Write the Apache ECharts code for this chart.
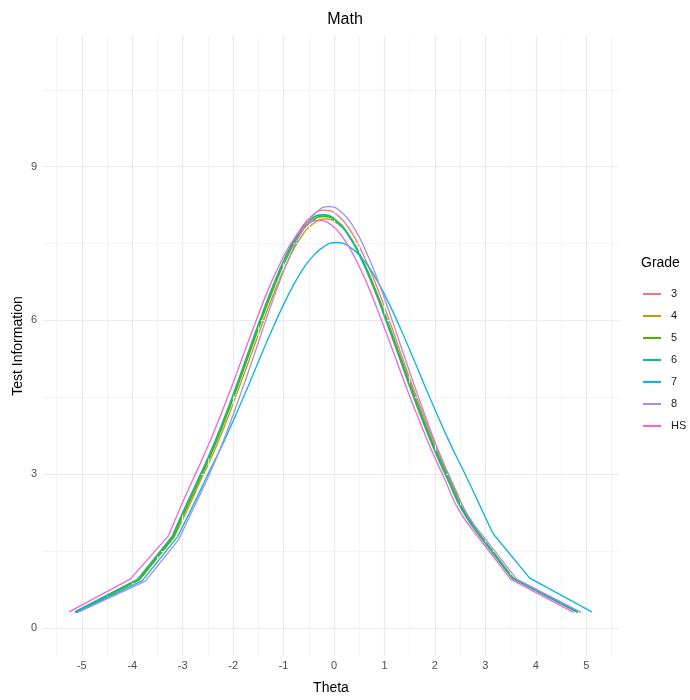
<!DOCTYPE html>
<html>
<head>
<meta charset="utf-8">
<script src="https://cdn.jsdelivr.net/npm/echarts@6/dist/echarts.min.js"></script>
<style>
  html, body { margin: 0; padding: 0; background: #fff; }
  #chart { width: 690px; height: 700px; }
</style>
</head>
<body>
<div id="chart"></div>
<script>
// ---- data ----
const grades = ['3', '4', '5', '6', '7', '8', 'HS'];
const colors = ['#F8766D', '#C49A00', '#53B400', '#00C094', '#00B6EB', '#A58AFF', '#FB61D7'];

const theta3 = [-5.12,-3.86,-3.18,-2.93,-2.68,-2.43,-2.18,-1.93,-1.68,-1.43,-1.18,-0.93,-0.68,-0.43,-0.18,0.07,0.32,0.57,0.82,1.07,1.32,1.57,1.82,2.07,2.32,2.57,2.87,3.55,4.82];
const info3  = [0.30,0.95,1.80,2.33,2.87,3.42,4.03,4.68,5.37,6.07,6.73,7.30,7.76,8.05,8.15,8.05,7.76,7.30,6.73,6.07,5.37,4.68,4.03,3.42,2.87,2.33,1.85,0.97,0.31];

const theta4 = [-5.10,-3.85,-3.17,-2.92,-2.67,-2.42,-2.17,-1.92,-1.67,-1.42,-1.17,-0.92,-0.67,-0.42,-0.17,0.08,0.33,0.58,0.83,1.08,1.33,1.58,1.83,2.08,2.33,2.58,2.88,3.56,4.84];
const info4  = [0.30,0.94,1.77,2.28,2.82,3.35,3.94,4.59,5.26,5.94,6.59,7.15,7.60,7.88,7.98,7.88,7.60,7.15,6.59,5.94,5.26,4.59,3.94,3.35,2.82,2.28,1.83,0.96,0.30];

const theta5 = [-5.13,-3.87,-3.19,-2.95,-2.70,-2.45,-2.20,-1.95,-1.70,-1.45,-1.20,-0.95,-0.70,-0.45,-0.20,0.05,0.30,0.55,0.80,1.05,1.30,1.55,1.80,2.05,2.30,2.55,2.87,3.54,4.84];
const info5  = [0.31,0.94,1.76,2.30,2.83,3.37,3.97,4.62,5.30,5.98,6.63,7.20,7.65,7.93,8.03,7.93,7.65,7.20,6.63,5.98,5.30,4.62,3.97,3.37,2.83,2.30,1.84,0.97,0.31];

const theta6 = [-5.14,-3.89,-3.21,-2.97,-2.72,-2.47,-2.22,-1.97,-1.72,-1.47,-1.22,-0.97,-0.72,-0.47,-0.22,0.03,0.28,0.53,0.78,1.03,1.28,1.53,1.78,2.03,2.28,2.53,2.85,3.53,4.82];
const info6  = [0.31,0.95,1.78,2.31,2.84,3.38,3.98,4.63,5.32,6.00,6.65,7.22,7.67,7.96,8.06,7.96,7.67,7.22,6.65,6.00,5.32,4.63,3.98,3.38,2.84,2.31,1.84,0.97,0.31];

const theta7 = [-5.10,-3.80,-3.10,-2.70,-2.45,-2.20,-1.95,-1.70,-1.45,-1.20,-0.95,-0.70,-0.45,-0.20,0.05,0.30,0.55,0.80,1.05,1.30,1.55,1.80,2.05,2.30,2.55,2.80,3.15,3.88,5.11];
const info7  = [0.30,0.92,1.78,2.58,3.10,3.60,4.15,4.72,5.31,5.88,6.41,6.87,7.22,7.44,7.52,7.44,7.22,6.87,6.41,5.88,5.31,4.72,4.15,3.60,3.10,2.58,1.84,0.97,0.31];

const theta8 = [-5.08,-3.74,-3.08,-2.85,-2.60,-2.35,-2.10,-1.85,-1.60,-1.35,-1.10,-0.85,-0.60,-0.35,-0.10,0.15,0.40,0.65,0.90,1.15,1.40,1.65,1.90,2.15,2.40,2.65,2.95,3.62,4.90];
const info8  = [0.30,0.91,1.72,2.20,2.72,3.27,3.89,4.57,5.28,6.01,6.70,7.31,7.80,8.11,8.22,8.11,7.80,7.31,6.70,6.01,5.28,4.57,3.89,3.27,2.72,2.20,1.80,0.95,0.30];

const thetaHS = [-5.25,-4.04,-3.28,-3.05,-2.80,-2.55,-2.30,-2.05,-1.80,-1.55,-1.30,-1.05,-0.80,-0.55,-0.30,-0.05,0.20,0.45,0.70,0.95,1.20,1.45,1.70,1.95,2.20,2.45,2.79,3.50,4.75];
const infoHS  = [0.31,0.95,1.80,2.34,2.89,3.43,4.02,4.65,5.32,5.98,6.61,7.15,7.58,7.86,7.95,7.86,7.58,7.15,6.61,5.98,5.32,4.65,4.02,3.43,2.89,2.34,1.86,0.95,0.30];

const xTicks = [-5,-4,-3,-2,-1,0,1,2,3,4,5];
const xMinor = [-5.5,-4.5,-3.5,-2.5,-1.5,-0.5,0.5,1.5,2.5,3.5,4.5,5.5];
const yTicks = [0,3,6,9];
const yMinor = [1.5,4.5,7.5,10.5];

// ---- build chart ----
const thetas = [theta3, theta4, theta5, theta6, theta7, theta8, thetaHS];
const infos  = [info3, info4, info5, info6, info7, info8, infoHS];
const widths = [1.3, 1.3, 1.7, 1.6, 1.3, 1.3, 1.3];

const FONT = '"Liberation Sans", Arial, sans-serif';
const GRID = '#EBEBEB';

const gridLines = {
  type: 'line', data: [], silent: true, z: 0,
  markLine: {
    silent: true, symbol: ['none', 'none'], animation: false,
    label: { show: false },
    emphasis: { disabled: true },
    data: [
      ...xMinor.map(v => ({ xAxis: v, lineStyle: { color: '#F1F1F1', width: 0.8, type: 'solid' } })),
      ...yMinor.map(v => ({ yAxis: v, lineStyle: { color: '#F1F1F1', width: 0.8, type: 'solid' } })),
      ...xTicks.map(v => ({ xAxis: v, lineStyle: { color: GRID, width: 1.2, type: 'solid' } })),
      ...yTicks.map(v => ({ yAxis: v, lineStyle: { color: GRID, width: 1.2, type: 'solid' } }))
    ]
  }
};

const series = [gridLines];
grades.forEach((g, i) => {
  const pts = thetas[i].map((t, k) => [t, infos[i][k]]);
  const n = pts.length;
  // tails: straight segments between the sparse outer points
  series.push({
    name: g, type: 'line',
    data: [pts[0], pts[1], pts[2], '-', pts[n - 3], pts[n - 2], pts[n - 1]],
    symbol: 'none', smooth: false, connectNulls: false,
    lineStyle: { color: colors[i], width: widths[i] },
    itemStyle: { color: colors[i] },
    emphasis: { disabled: true }, animation: false, z: 2 + i
  });
  // dense central part drawn smoothly
  series.push({
    name: g, type: 'line',
    data: pts.slice(2, n - 2),
    symbol: 'none', smooth: 0.5,
    lineStyle: { color: colors[i], width: widths[i] },
    itemStyle: { color: colors[i] },
    emphasis: { disabled: true }, animation: false, z: 2 + i
  });
});

const chart = echarts.init(document.getElementById('chart'), null, { renderer: 'canvas' });
chart.setOption({
  backgroundColor: '#ffffff',
  animation: false,
  textStyle: { fontFamily: FONT },
  title: [
    { text: 'Math', left: 'center', top: 7,
      textStyle: { fontFamily: FONT, fontSize: 16, fontWeight: 'normal', color: '#000' } },
    { text: 'Grade', left: 636, top: 251,
      textStyle: { fontFamily: FONT, fontSize: 14, fontWeight: 'normal', color: '#000' } }
  ],
  legend: {
    orient: 'vertical', left: 638, top: 282,
    icon: 'rect', itemWidth: 18, itemHeight: 2, itemGap: 8,
    data: grades,
    selectedMode: false,
    textStyle: { fontFamily: FONT, fontSize: 11, color: '#1a1a1a', lineHeight: 14, padding: [0, 0, 0, 5] }
  },
  grid: { left: 43, right: 71, top: 36, bottom: 40, containLabel: false },
  xAxis: {
    type: 'value', min: -5.77, max: 5.65,
    name: 'Theta', nameLocation: 'middle', nameGap: 25, nameMoveOverlap: false,
    nameTextStyle: { fontFamily: FONT, fontSize: 14, color: '#000' },
    axisLine: { show: false }, axisTick: { show: false }, splitLine: { show: false },
    axisLabel: { customValues: xTicks, color: '#4D4D4D', fontSize: 11, margin: 4, fontFamily: FONT }
  },
  yAxis: {
    type: 'value', min: -0.55, max: 11.55,
    name: 'Test Information', nameLocation: 'middle', nameGap: 18, nameMoveOverlap: false,
    nameTextStyle: { fontFamily: FONT, fontSize: 14, color: '#000' },
    axisLine: { show: false }, axisTick: { show: false }, splitLine: { show: false },
    axisLabel: { customValues: yTicks, color: '#4D4D4D', fontSize: 11, margin: 6, fontFamily: FONT }
  },
  series: series
});
</script>
</body>
</html>
